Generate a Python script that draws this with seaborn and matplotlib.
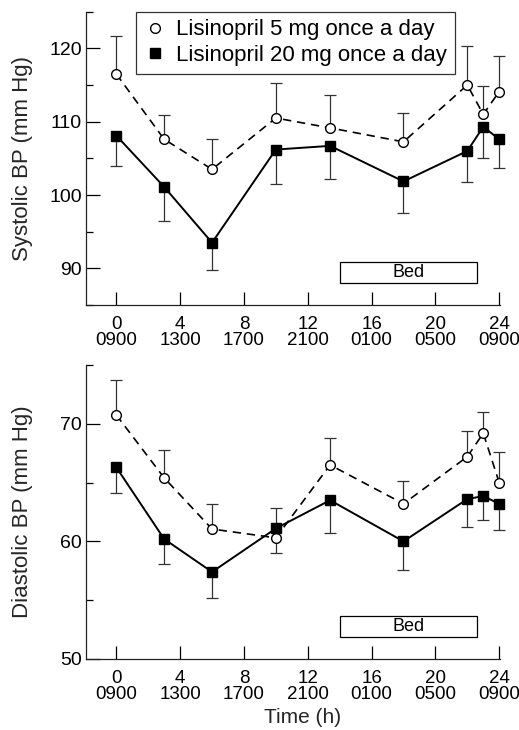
import numpy as np
import matplotlib
matplotlib.use("Agg")
import matplotlib.pyplot as plt
from matplotlib.lines import Line2D
from matplotlib.patches import Rectangle
from matplotlib.ticker import MultipleLocator
import seaborn as sns

# time points (h after 0900)
hours = [0, 3, 6, 10, 13.4, 18, 22, 23, 24]
tick_hours = [0, 4, 8, 12, 16, 20, 24]
tick_clock = ["0900", "1300", "1700", "2100", "0100", "0500", "0900"]

# systolic BP, mean and signed SE (+ drawn up, - drawn down)
sys_5mg = [116.5, 107.6, 103.5, 110.5, 109.15, 107.25, 115.0, 111.0, 114.1]
sys_5mg_err = [5.2, 3.3, 4.2, 4.8, 4.45, 3.95, 5.3, 3.8, 4.8]
sys_20mg = [108.1, 101.1, 93.5, 106.2, 106.7, 101.85, 106.0, 109.3, 107.6]
sys_20mg_err = [-4.1, -4.6, -3.7, -4.7, -4.5, -4.25, -4.2, -4.3, -3.9]

# diastolic BP
dia_5mg = [70.75, 65.4, 61.05, 60.3, 66.5, 63.2, 67.2, 69.2, 65.0]
dia_5mg_err = [3.0, 2.4, 2.15, -1.3, 2.25, 1.9, 2.2, 1.8, 2.6]
dia_20mg = [66.3, 60.2, 57.4, 61.1, 63.5, 60.0, 63.6, 63.85, 63.2]
dia_20mg_err = [-2.2, -2.15, -2.2, 1.7, -2.8, -2.4, -2.35, -2.05, -2.2]

bed_start, bed_end = 14.0, 22.6
labels = ["Lisinopril 5 mg once a day", "Lisinopril 20 mg once a day"]

sns.set_style("ticks")
plt.rcParams["font.family"] = ["Liberation Sans", "DejaVu Sans"]
plt.rcParams["text.color"] = "black"
plt.rcParams["xtick.color"] = "black"
plt.rcParams["ytick.color"] = "black"

fig = plt.figure(figsize=(5.19, 7.30), dpi=100)
ax1 = fig.add_axes([0.1657, 0.5822, 0.7977, 0.4018])
ax2 = fig.add_axes([0.1657, 0.0973, 0.7977, 0.4027])


def draw_errs(ax, y, err):
    y = np.asarray(y)
    tip = y + np.asarray(err)
    ax.vlines(hours, y, tip, color="#333333", lw=0.9, zorder=1, clip_on=False)
    ax.plot(hours, tip, ls="none", marker="_", ms=9, mew=0.9, color="#333333",
            zorder=1, clip_on=False)


def panel(ax, y5, e5, y20, e20, ylim, major, ylabel, bed_y):
    draw_errs(ax, y5, e5)
    draw_errs(ax, y20, e20)
    sns.lineplot(x=hours, y=y5, ax=ax, estimator=None, errorbar=None, sort=False,
                 color="black", lw=1.2, linestyle=(0, (5, 3.5)), marker="o", ms=7,
                 markerfacecolor="white", markeredgecolor="black", markeredgewidth=1.0,
                 legend=False, zorder=3, clip_on=False)
    sns.lineplot(x=hours, y=y20, ax=ax, estimator=None, errorbar=None, sort=False,
                 color="black", lw=1.4, marker="s", ms=7,
                 markerfacecolor="black", markeredgecolor="black", markeredgewidth=1.0,
                 legend=False, zorder=3, clip_on=False)
    ax.set_xlim(-1.9, 24.05)
    ax.set_ylim(*ylim)
    ax.set_xticks(tick_hours)
    ax.set_xticklabels([f"{h}\n{c}" for h, c in zip(tick_hours, tick_clock)],
                       fontsize=13.5, linespacing=0.95)
    ax.yaxis.set_major_locator(MultipleLocator(major))
    ax.yaxis.set_minor_locator(MultipleLocator(5))
    ax.tick_params(axis="x", direction="in", length=9.5, width=0.9, pad=8)
    ax.tick_params(axis="y", which="major", direction="in", length=10, width=0.9,
                   pad=3, labelsize=14)
    ax.tick_params(axis="y", which="minor", direction="in", length=5, width=0.9)
    for s in ["top", "right"]:
        ax.spines[s].set_visible(False)
    for s in ["left", "bottom"]:
        ax.spines[s].set_linewidth(0.9)
        ax.spines[s].set_color("#222222")
    ax.set_ylabel(ylabel, fontsize=16)
    ax.yaxis.set_label_coords(-0.128, 0.5)
    ax.add_patch(Rectangle((bed_start, bed_y[0]), bed_end - bed_start, bed_y[1] - bed_y[0],
                           facecolor="white", edgecolor="black", lw=0.9, zorder=2))
    ax.text((bed_start + bed_end) / 2, (bed_y[0] + bed_y[1]) / 2, "Bed",
            ha="center", va="center", fontsize=13, zorder=3)


panel(ax1, sys_5mg, sys_5mg_err, sys_20mg, sys_20mg_err, (85, 125), 10,
      "Systolic BP (mm Hg)", (88.0, 90.9))
panel(ax2, dia_5mg, dia_5mg_err, dia_20mg, dia_20mg_err, (50, 75), 10,
      "Diastolic BP (mm Hg)", (51.86, 53.66))

ax2.set_xlabel("Time (h)", fontsize=15)
ax2.xaxis.set_label_coords(0.524, -0.168)

handles = [
    Line2D([], [], ls="none", marker="o", ms=7, mfc="white", mec="black", mew=1.0),
    Line2D([], [], ls="none", marker="s", ms=7, mfc="black", mec="black"),
]
leg = ax1.legend(handles, labels, loc="upper left", bbox_to_anchor=(0.121, 1.0),
                 borderaxespad=0, fontsize=16, frameon=True, fancybox=False,
                 handlelength=1.0, handletextpad=0.45, borderpad=0.35,
                 labelspacing=0.2)
leg.get_frame().set_edgecolor("black")
leg.get_frame().set_linewidth(0.9)

fig.savefig("out.png", dpi=100)
